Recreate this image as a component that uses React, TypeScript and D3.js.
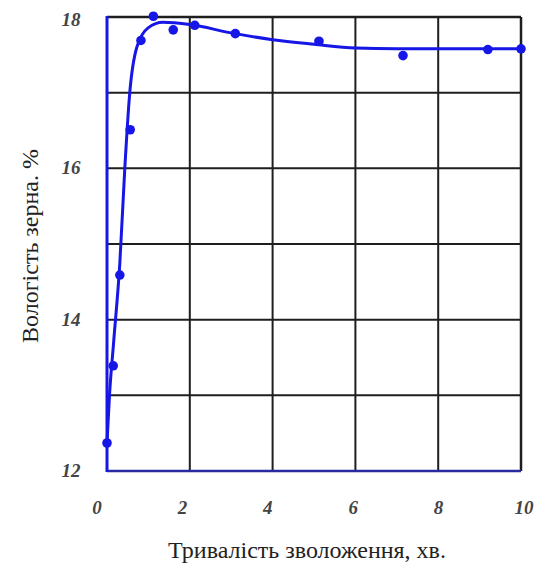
import React from "react";
import * as d3 from "d3";

const pointX = [0, 0.15, 0.31, 0.56, 0.82, 1.12, 1.6, 2.12, 3.1, 5.12, 7.15, 9.2, 10];
const pointY = [12.37, 13.39, 14.59, 16.51, 17.69, 18.01, 17.83, 17.89, 17.78, 17.68, 17.49, 17.57, 17.58];

const curveX = [0, 0.06, 0.16, 0.31, 0.43, 0.55, 0.72, 1.0, 1.35, 2, 3, 4, 5, 6, 7, 8, 10];
const curveY = [12.37, 13.0, 13.7, 14.75, 16.0, 17.0, 17.6, 17.86, 17.93, 17.9, 17.79, 17.7, 17.64, 17.59, 17.58, 17.58, 17.58];

const xTicks = [0, 2, 4, 6, 8, 10];
const yTicks = [12, 14, 16, 18];
const yGrid = [12, 13, 14, 15, 16, 17, 18];

const xTitle = "Тривалість зволоження, хв.";
const yTitle = "Вологість зерна.  %";

const css = `
svg.chart text { font-family: 'Liberation Serif', 'Times New Roman', Times, serif !important; }
svg.chart text.tick { font-style: italic; font-weight: bold; font-size: 19px; fill: #444; }
svg.chart text.title { font-size: 24px; fill: #222; }
`;

export default function App() {
  const x = d3.scaleLinear().domain([0, 10]).range([107, 521]);
  const y = d3.scaleLinear().domain([12, 18]).range([471, 17]);
  const xLab = d3.scaleLinear().domain([0, 10]).range([97, 524]);

  const line = d3
    .line<number>()
    .x((_, i) => x(curveX[i]))
    .y((d) => y(d))
    .curve(d3.curveMonotoneX);

  const blue = "#1616e6";
  const grid = "#1e1e1e";

  return (
    <svg
      className="chart"
      width={555}
      height={565}
      style={{ position: "absolute", left: 0, top: 0, background: "#fff" }}
    >
      <style>{css}</style>
      {xTicks.slice(1, -1).map((t) => (
        <line key={"vx" + t} x1={x(t)} x2={x(t)} y1={y(12)} y2={y(18)} stroke={grid} strokeWidth={2} />
      ))}
      {yGrid.slice(1, -1).map((t) => (
        <line key={"hy" + t} x1={x(0)} x2={x(10)} y1={y(t)} y2={y(t)} stroke={grid} strokeWidth={2} />
      ))}
      <line x1={x(0)} x2={x(10)} y1={y(18)} y2={y(18)} stroke={grid} strokeWidth={2.5} />
      <line x1={x(10)} x2={x(10)} y1={y(18)} y2={y(12)} stroke={grid} strokeWidth={2.5} />
      <line x1={x(0)} x2={x(10)} y1={y(12)} y2={y(12)} stroke="#2a2aa0" strokeWidth={2.5} />
      <line x1={x(0)} x2={x(0)} y1={y(18) - 1} y2={y(12) + 1} stroke={blue} strokeWidth={3} />

      <path d={line(curveY) || ""} fill="none" stroke={blue} strokeWidth={3} />
      {pointY.map((v, i) => (
        <circle key={"p" + i} cx={x(pointX[i])} cy={y(v)} r={4.8} fill={blue} />
      ))}

      {yTicks.map((t) => (
        <text key={"yl" + t} className="tick" x={71} y={y(t) + (t === 18 ? 3 : 0) + 6} textAnchor="middle">
          {t}
        </text>
      ))}
      {xTicks.map((t) => (
        <text key={"xl" + t} className="tick" x={xLab(t)} y={514} textAnchor="middle">
          {t}
        </text>
      ))}

      <text className="title" x={307} y={558} textAnchor="middle">
        {xTitle}
      </text>
      <text className="title" transform="translate(38,246) rotate(-90)" textAnchor="middle">
        {yTitle}
      </text>
    </svg>
  );
}
